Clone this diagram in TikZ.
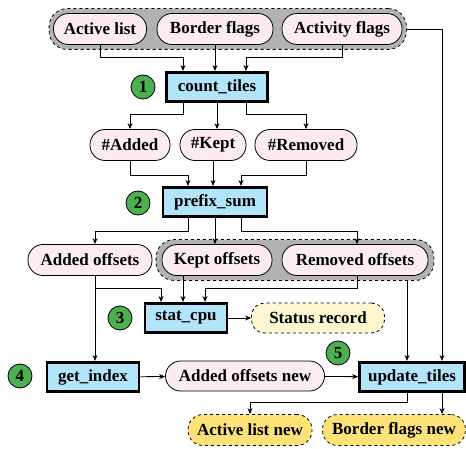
\documentclass[tikz,border=0pt]{standalone}
\usepackage{fontspec}
\setmainfont{Liberation Serif}
\usepackage{tikz}
\usetikzlibrary{arrows.meta,calc,fit,backgrounds,positioning}
\definecolor{DataPink}{RGB}{252,236,240}
\definecolor{ProcBlue}{RGB}{179,229,250}
\definecolor{StepGreen}{RGB}{76,175,80}
\definecolor{GroupGray}{RGB}{178,178,178}
\definecolor{StatCream}{RGB}{253,246,208}
\definecolor{NewGold}{RGB}{253,226,120}
\begin{document}
\begin{tikzpicture}[x=1pt,y=-1pt,
  font=\fontsize{17}{20}\selectfont\bfseries,
  data/.style={draw,line width=0.8pt,fill=DataPink,rounded corners=15pt,minimum height=31pt,inner sep=0pt},
  proc/.style={draw,line width=2.6pt,fill=ProcBlue,minimum height=29.5pt,inner sep=0pt},
  outdata/.style={data,dashed,fill=NewGold},
  stat/.style={data,dashed,fill=StatCream,rounded corners=13pt},
  num/.style={circle,draw,line width=0.8pt,fill=StepGreen,minimum size=24pt,inner sep=0pt},
  group/.style={draw,dashed,line width=0.8pt,fill=GroupGray,rounded corners=18pt},
  arr/.style={-{Stealth[length=6pt,width=5pt]},line width=0.8pt}]
\useasboundingbox (0,0) rectangle (466,449);
%
% inputs
\node[data,minimum width=93pt]  (al) at (100,29) {Active list};
\node[data,minimum width=116pt] (bf) at (215,29) {Border flags};
\node[data,minimum width=120pt] (af) at (342,29) {Activity flags};
%
\node[proc,minimum width=101pt] (ct) at (217,87) {count\_tiles};
\node[num] (c1) at (143,87) {1};
%
\node[data,minimum width=80pt]  (na) at (130,145) {\#Added};
\node[data,minimum width=66pt]  (nk) at (213,145) {\#Kept};
\node[data,minimum width=102pt] (nr) at (306,145) {\#Removed};
%
\node[proc,minimum width=104pt] (ps) at (215,202) {prefix\_sum};
\node[num] (c2) at (138,203) {2};
%
\node[data,minimum width=124pt] (ao) at (90,260) {Added offsets};
\node[data,minimum width=110pt] (ko) at (217,260) {Kept offsets};
\node[data,minimum width=146pt] (ro) at (355,260) {Removed offsets};
%
\node[proc,minimum width=82pt] (sc) at (186,318) {stat\_cpu};
\node[num] (c3) at (120,318) {3};
\node[stat,minimum width=133pt,minimum height=30pt] (sr) at (318,318) {Status record};
%
\node[proc,minimum width=92pt] (gi) at (93,377) {get\_index};
\node[num] (c4) at (20,376) {4};
\node[data,minimum width=159pt,minimum height=30pt] (aon) at (245,376) {Added offsets new};
\node[proc,minimum width=105pt] (ut) at (412,377) {update\_tiles};
\node[num] (c5) at (338,353) {5};
%
\node[outdata,minimum width=124pt] (aln) at (250,430) {Active list new};
\node[outdata,minimum width=143pt] (bfn) at (394,430) {Border flags new};
%
% groups
\begin{scope}[on background layer]
\node[group,fit=(al)(bf)(af),inner xsep=4pt,inner ysep=4.5pt] (inp) {};
\node[group,fit=(ko)(ro),inner xsep=5.5pt,inner ysep=4.5pt] (ofs) {};
\end{scope}
%
% connectors
\draw[arr] (al.south) |- ([xshift=-34pt,yshift=13.5pt]ct.north) -- ([xshift=-34pt]ct.north);
\draw[arr] (bf.south) -- (bf.south |- ct.north);
\draw[arr] (af.south) |- ([xshift=29pt,yshift=13.5pt]ct.north) -- ([xshift=29pt]ct.north);
%
\draw[arr] ([xshift=-34pt]ct.south) -- ++(0,-11.5pt) -| (na.north);
\draw[arr] (ct.south) -- (ct.south |- nk.north);
\draw[arr] ([xshift=29pt]ct.south) -- ++(0,-11.5pt) -| (nr.north);
%
\draw[arr] (na.south) |- ([xshift=-27pt,yshift=11pt]ps.north) -- ([xshift=-27pt]ps.north);
\draw[arr] (nk.south) -- (nk.south |- ps.north);
\draw[arr] (nr.south) |- ([xshift=26pt,yshift=11pt]ps.north) -- ([xshift=26pt]ps.north);
%
\draw[arr] ([xshift=-27pt]ps.south) -- ++(0,-13pt) -| ([xshift=5pt]ao.north);
\draw[arr] (ps.south) -- (ps.south |- ko.north);
\draw[arr] ([xshift=26pt]ps.south) -- ++(0,-13pt) -| ([xshift=2pt]ro.north);
%
\draw[arr] ([xshift=5pt]ao.south) -- ([xshift=5pt]ao.south |- gi.north);
\draw[arr] ([xshift=5pt]ao.south) |- ([xshift=-25pt,yshift=14pt]sc.north) -- ([xshift=-25pt]sc.north);
\draw[arr] ([xshift=-34pt]ko.south) -- ([xshift=-34pt]ko.south |- sc.north);
\draw[arr] ([xshift=2pt]ro.south) |- ([xshift=19pt,yshift=14pt]sc.north) -- ([xshift=19pt]sc.north);
\draw[arr] ([xshift=-5pt]ut.north |- ofs.south) -- ([xshift=-5pt]ut.north);
\draw[arr] (inp.east) -| ([xshift=30pt]ut.north);
%
\draw[arr] (sc) -- (sr);
\draw[arr] (gi) -- (aon);
\draw[arr] (aon) -- (ut);
%
\draw[arr] ([xshift=-5pt]ut.south) -- ++(0,-9pt) -| (aln.north);
\draw[arr] ([xshift=30pt]ut.south) -- ([xshift=30pt]ut.south |- bfn.north);
%
\end{tikzpicture}
\end{document}
